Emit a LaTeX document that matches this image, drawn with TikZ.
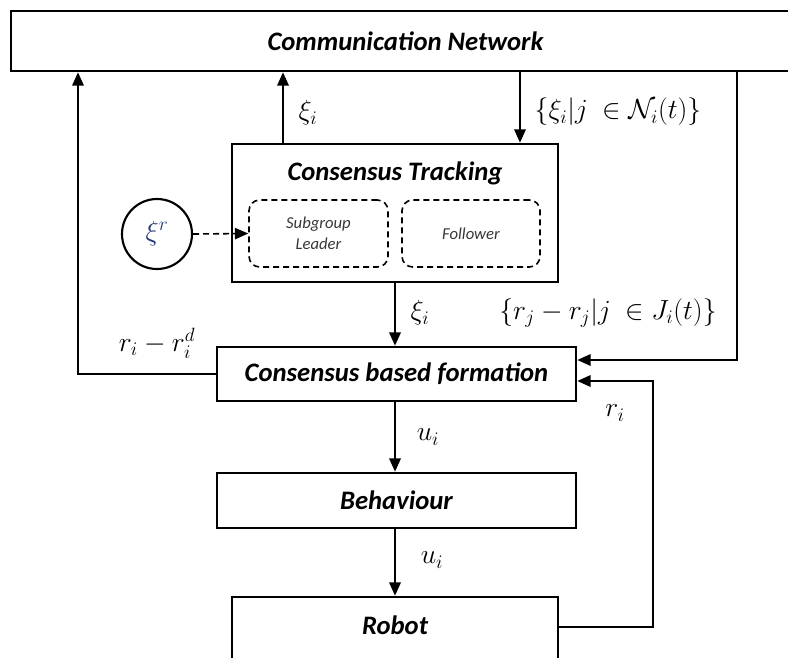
\documentclass[tikz,border=0pt]{standalone}
\usepackage{fontspec}
\setmainfont{Carlito}
\usetikzlibrary{arrows.meta,calc}
\definecolor{xiblue}{RGB}{31,56,120}
\definecolor{subgray}{RGB}{56,56,56}

\begin{document}
\begin{tikzpicture}[x=0.75pt,y=-0.75pt,
  box/.style={draw,line width=1.9pt,inner sep=0pt},
  title/.style={inner sep=0pt,font=\fontsize{20}{23}\selectfont\bfseries\itshape},
  dbox/.style={draw,dash pattern=on 4.5pt off 3pt,line width=1.2pt,rounded corners=8pt,
    inner sep=0pt,font=\fontsize{12.5}{15.5}\selectfont\itshape,text=subgray,align=center},
  arr/.style={line width=1.7pt,-{Triangle[length=10pt,width=8.5pt]}},
  darr/.style={line width=1.2pt,dash pattern=on 4.5pt off 3pt,-{Triangle[length=10pt,width=8.5pt]}},
  lbl/.style={inner sep=0pt,font=\fontsize{22}{24}\selectfont}
]
\clip (0,0) rectangle (788,657);
\fill[white] (0,0) rectangle (788,657);

% blocks
\node[box,minimum width=591.75pt,minimum height=45pt,title] (comm) at (405.5,41) {Communication Network};
\node[box,minimum width=244.5pt,minimum height=103.5pt] (ct) at (395,213) {};
\node[title] (ctt) at (395,173) {Consensus Tracking};
\node[dbox,minimum width=104.25pt,minimum height=50.25pt] (sub) at (318.5,233.5) {Subgroup\\Leader};
\node[dbox,minimum width=103.5pt,minimum height=50.25pt] (fol) at (471,233.5) {Follower};
\node[draw,circle,line width=1.6pt,minimum size=52.5pt,inner sep=0pt,text=xiblue,lbl] (xr) at (157,234) {$\xi^r$};
\node[box,minimum width=269.25pt,minimum height=40.5pt,title] (cbf) at (396.5,374) {Consensus based formation};
\node[box,minimum width=269.25pt,minimum height=41.25pt,title] (beh) at (396.5,500.5) {Behaviour};
\node[box,minimum width=244.5pt,minimum height=79.5pt] (rob) at (395,650) {};
\node[title] (robt) at (395,625) {Robot};

% connector columns and entry points
\coordinate (xl) at (78,0);
\coordinate (xa) at (283,0);
\coordinate (xb) at (520,0);
\coordinate (xr1) at (737,0);
\coordinate (xr2) at (653,0);
\coordinate (xc) at (395,0);
\coordinate (fin) at ($(cbf.east)+(0,-14)$);
\coordinate (fb) at ($(cbf.east)+(0,7)$);
\coordinate (rout) at ($(rob.north east)+(0,31)$);

% connectors
\draw[arr] (cbf.west) -| (comm.south -| xl);
\draw[arr] (ct.north -| xa) -- (comm.south -| xa);
\draw[arr] (comm.south -| xb) -- (ct.north -| xb);
\draw[arr] (comm.south -| xr1) |- (fin);
\draw[arr] (rout) -| (xr2 |- fb) -- (fb);
\draw[darr] (xr.east) -- (sub.west);
\draw[arr] (ct.south -| xc) -- (cbf.north -| xc);
\draw[arr] (cbf.south -| xc) -- (beh.north -| xc);
\draw[arr] (beh.south -| xc) -- (rob.north -| xc);

% signal labels
\node[lbl] (l1) at (308,113) {$\xi_i$};
\node[lbl] (l2) at (618,112) {$\{\xi_i|j\ \in\mathcal{N}_i(t)\}$};
\node[lbl] (l3) at (420,313) {$\xi_i$};
\node[lbl] (l4) at (608,313) {$\bigl\{r_j-r_j|j\ \in J_i(t)\bigr\}$};
\node[lbl] (l5) at (157,343) {$r_i-r_i^d$};
\node[lbl] (l6) at (428,437) {$u_i$};
\node[lbl] (l7) at (432,560) {$u_i$};
\node[lbl] (l8) at (615,413) {$r_i$};
\end{tikzpicture}
\end{document}
